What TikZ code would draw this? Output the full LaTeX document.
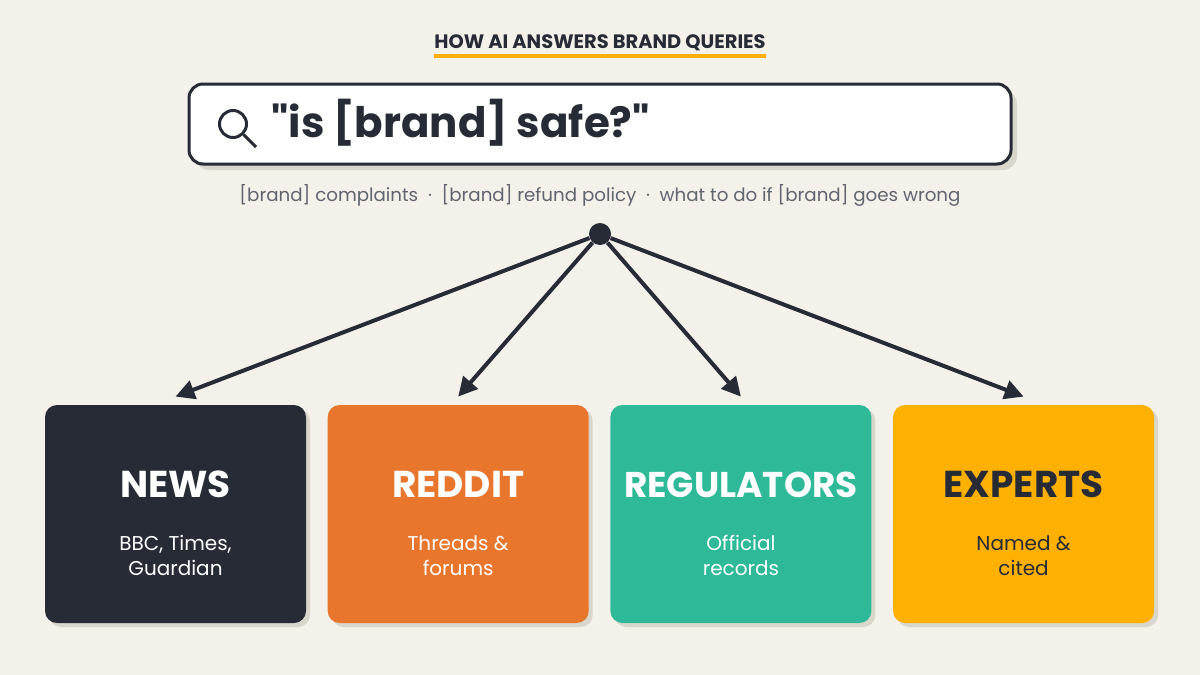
\documentclass[tikz,border=0pt]{standalone}
\usepackage{fontspec}
\setmainfont{Poppins}[Ligatures=TeXOff]
\usetikzlibrary{arrows.meta, positioning, shadows}

\definecolor{bgcream}{HTML}{F4F1EA}
\definecolor{inkdark}{HTML}{262B36}
\definecolor{shadowgrey}{HTML}{D9D6CB}
\definecolor{subgrey}{HTML}{5F6470}
\definecolor{cardorange}{HTML}{E8762D}
\definecolor{cardteal}{HTML}{2EB998}
\definecolor{cardamber}{HTML}{FFB000}

\begin{document}
\begin{tikzpicture}[
		x=0.5pt, y=-0.5pt,
		node distance=10.45pt and 10.45pt,
		card/.style     ={rounded corners=6pt, inner sep=0pt, minimum width=130.5pt, minimum height=109pt, drop shadow={shadow xshift=2pt, shadow yshift=-2pt, fill=shadowgrey, opacity=1}},
		cardtitle/.style={inner sep=0pt},
		cardtext/.style ={font=\fontsize{10}{12.5}\selectfont, align=center, inner sep=0pt},
		searchbox/.style={draw=inkdark, line width=1.5pt, fill=white, rounded corners=7pt, minimum width=411pt, minimum height=40pt, drop shadow={shadow xshift=3pt, shadow yshift=-3pt, fill=shadowgrey, opacity=1}},
		fanarrow/.style ={-{Triangle[length=9.5pt, width=9.5pt]}, line width=2pt, draw=inkdark}
		]
		
		% --- Background ---
		\path[use as bounding box, fill=bgcream] (0,0) rectangle (1200,675);
		
		% --- Heading ---
		\node[font=\bfseries\fontsize{9.7}{12}\selectfont, text=inkdark, inner sep=0pt, anchor=base] (heading) at (600,48) {HOW AI ANSWERS BRAND QUERIES};
		\draw[cardamber, line width=2pt] ([yshift=-3.9pt]heading.base west) -- ([yshift=-3.9pt]heading.base east);
		
		% --- Search bar ---
		\node[searchbox] (search) at (600,124) {};
		\node[circle, draw=inkdark, line width=1.5pt, minimum size=13.5pt, inner sep=0pt] (lens) at (233,124) {};
		\coordinate (lensend) at (256,147);
		\draw[inkdark, line width=1.5pt] (lens.-45) -- (lensend);
		\node[font=\bfseries\fontsize{21}{26}\selectfont, text=inkdark, inner sep=0pt, anchor=base west] (query) at (271,137) {"is [brand] safe?"};
		\node[font=\fontsize{9.12}{12}\selectfont, text=subgrey, inner sep=0pt, anchor=base] (related) at (600,201) {[brand] complaints \ · \ [brand] refund policy \ · \ what to do if [brand] goes wrong};
		
		% --- Hub ---
		\node[circle, fill=inkdark, minimum size=11pt, inner sep=0pt] (hub) at (600,234) {};
		
		% --- Cards ---
		\node[card, fill=inkdark]  (news) at (175.5,514) {};
		\node[card, fill=cardorange, right=of news]  (reddit) {};
		\node[card, fill=cardteal,   right=of reddit] (regulators) {};
		\node[card, fill=cardamber,  right=of regulators] (experts) {};
		
		% --- Card labels and arrows ---
		\foreach \card/\head/\body/\ink/\size in {
			news/NEWS/{BBC, Times,\\Guardian}/white/18.7,
			reddit/REDDIT/{Threads \&\\forums}/white/18.7,
			regulators/REGULATORS/{Official\\records}/white/17.9,
			experts/EXPERTS/{Named \&\\cited}/inkdark/18.7}
		{
			\node[cardtitle, font=\bfseries\fontsize{\size}{22}\selectfont, text=\ink, anchor=base] (\card title) at ([yshift=8.5pt]\card.center) {\head};
			\node[cardtext, text=\ink, anchor=base] (\card text) at ([yshift=-30.5pt]\card.center) {\body};
			\coordinate (\card tip) at ([yshift=4pt]\card.north);
			\draw[fanarrow] (hub) -- (\card tip);
		}
		
	\end{tikzpicture}
\end{document}
